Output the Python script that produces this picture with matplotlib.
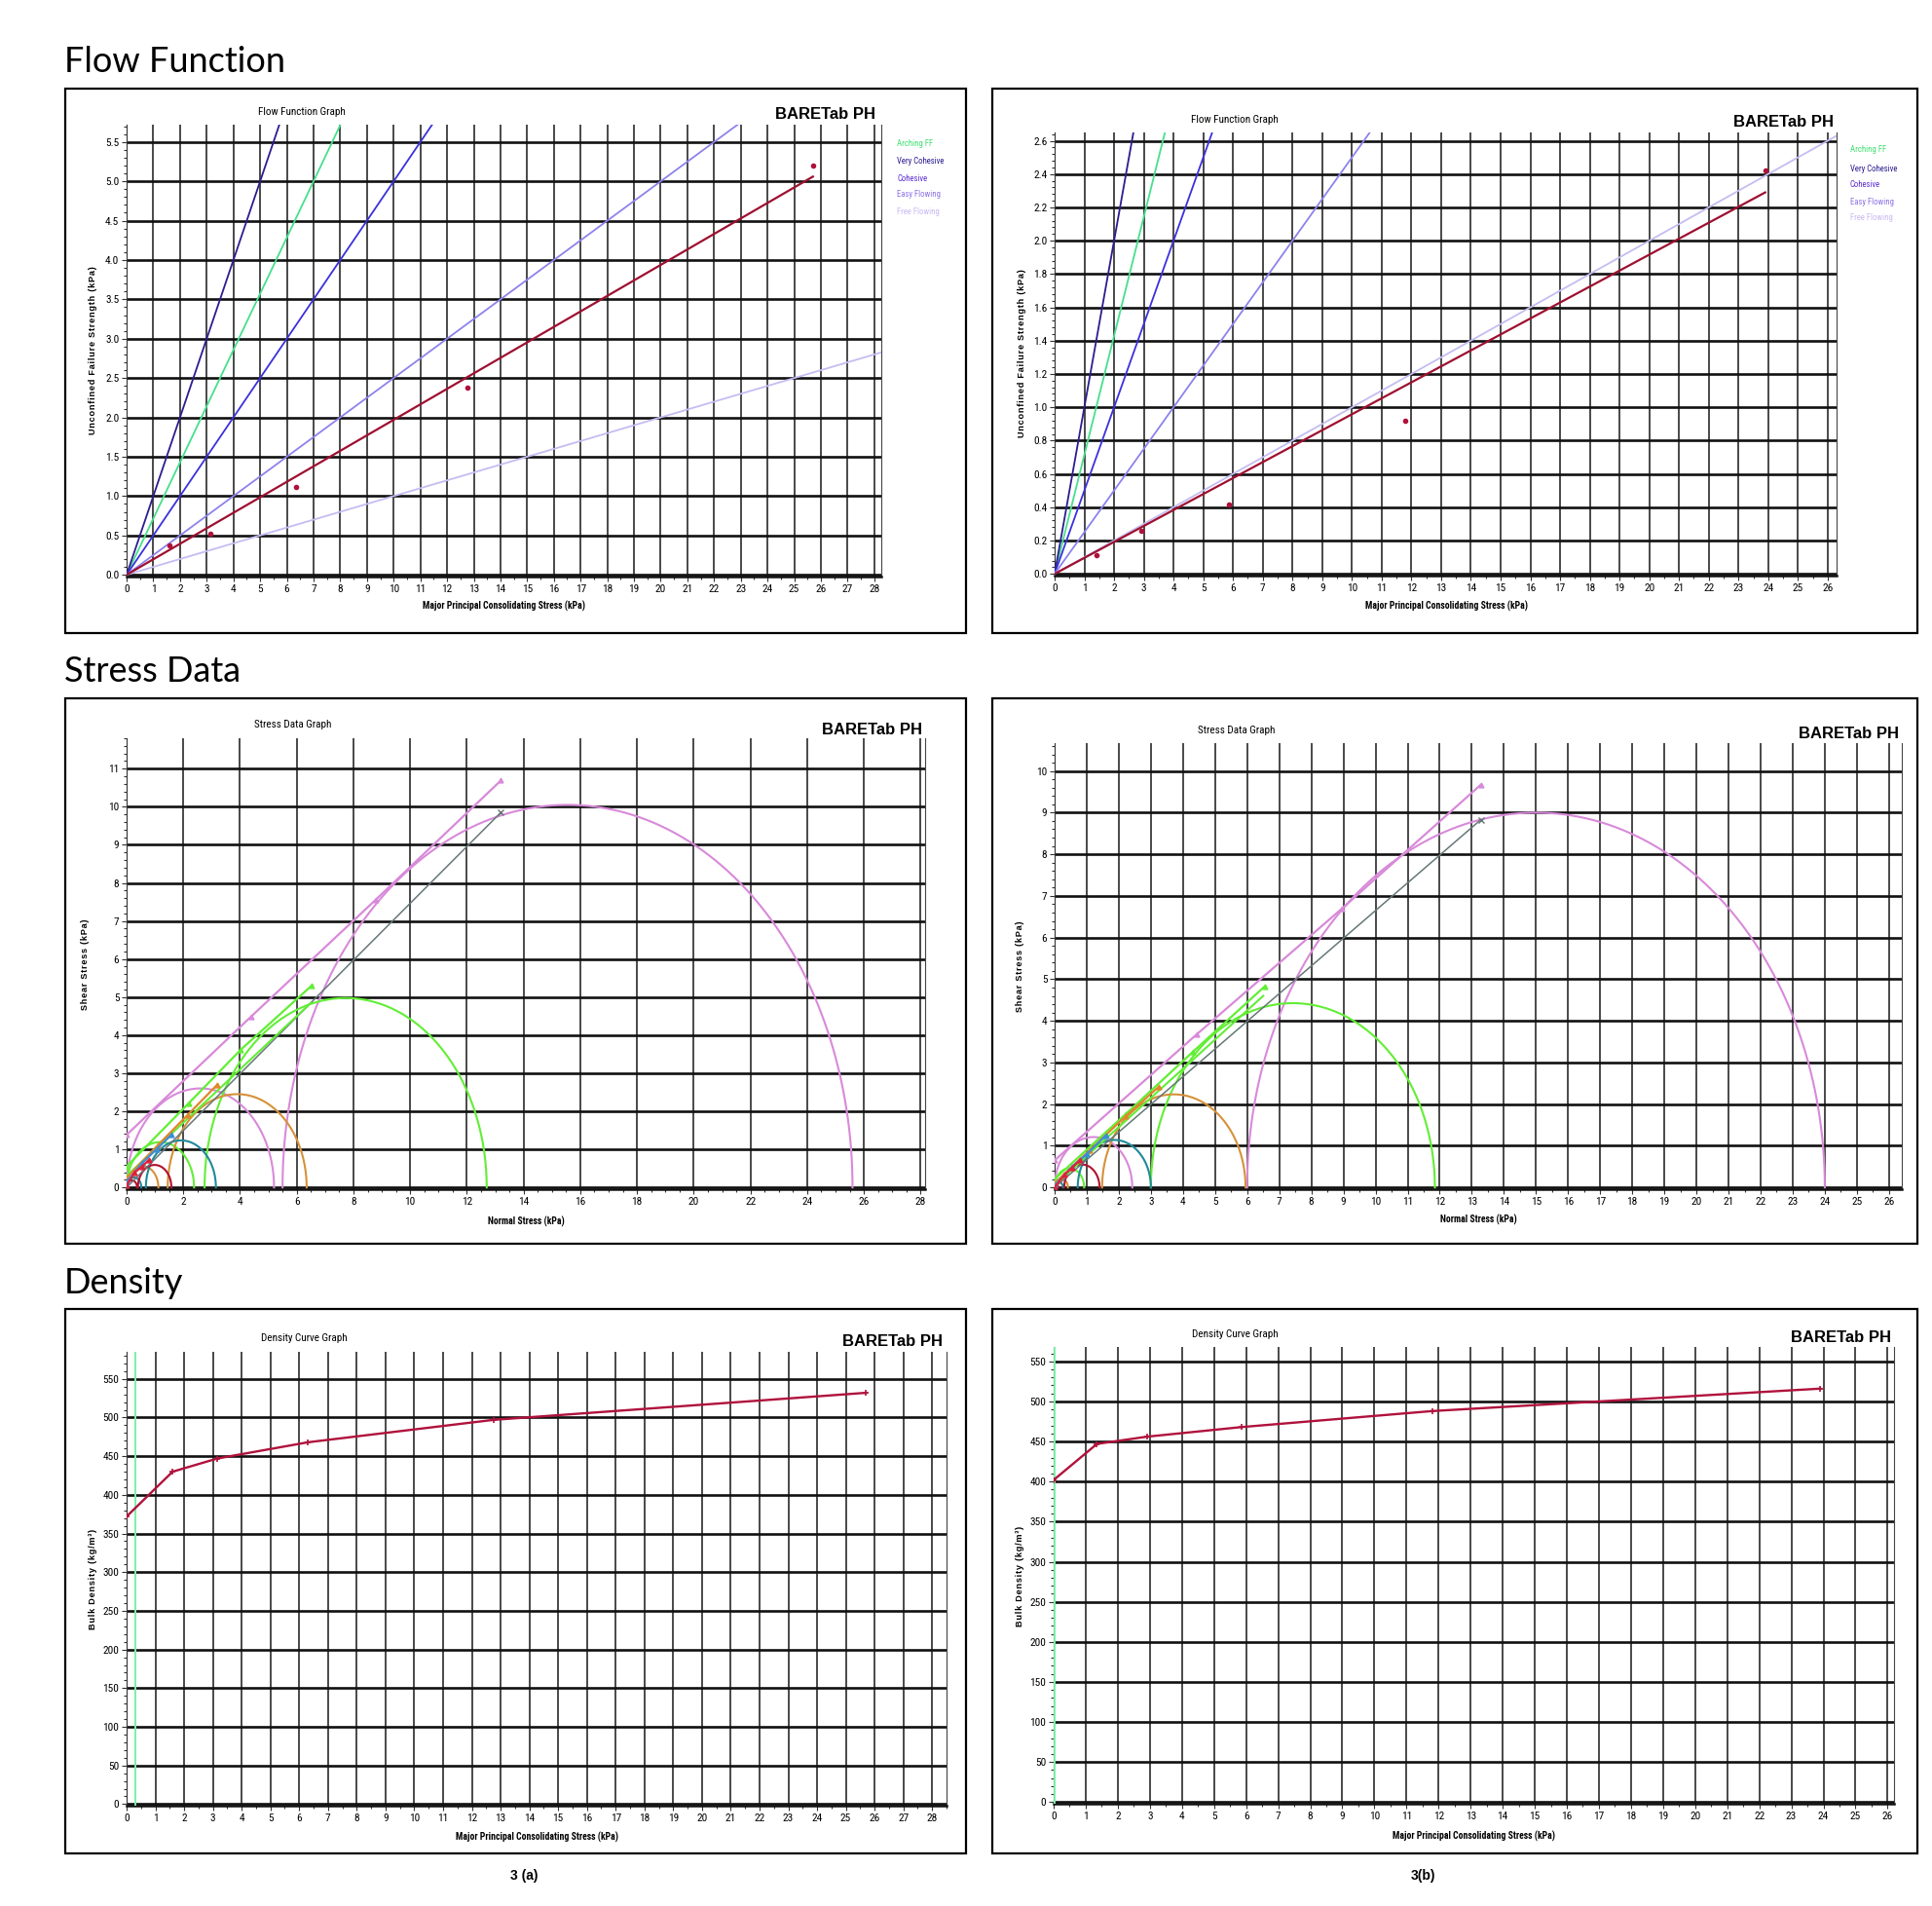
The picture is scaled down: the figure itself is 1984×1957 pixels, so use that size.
import numpy as np
import matplotlib
matplotlib.use("Agg")
import matplotlib.pyplot as plt
from matplotlib import font_manager
from matplotlib.patches import Rectangle
from matplotlib.ticker import MultipleLocator, FormatStrFormatter

W, H = 1984, 1957
_have = {f.name for f in font_manager.fontManager.ttflist}


def pick(cands):
    return [c for c in cands if c in _have][:1] + ["DejaVu Sans"]


NARROW = pick(["Liberation Sans Narrow", "Arial Narrow", "Roboto Condensed",
               "Open Sans Condensed", "DejaVu Sans Condensed", "Liberation Sans"])
ARIAL = pick(["Liberation Sans", "Arial"])
plt.rcParams["font.family"] = NARROW
plt.rcParams["font.stretch"] = "condensed"

# ---------------- data ----------------
# flow function, 3(a) and 3(b): major principal stress vs unconfined strength
ffa_sigma1 = [1.6, 3.15, 6.35, 12.75, 25.7]
ffa_fc = [0.37, 0.52, 1.12, 2.38, 5.2]
ffa_fit_x = [0, 25.7]
ffa_fit_y = [0, 5.06]
ffb_sigma1 = [1.4, 2.9, 5.85, 11.8, 23.9]
ffb_fc = [0.115, 0.26, 0.415, 0.92, 2.42]
ffb_fit_x = [0, 23.9]
ffb_fit_y = [0, 2.29]

class_names = ["Arching FF", "Very Cohesive", "Cohesive", "Easy Flowing", "Free Flowing"]
class_ff = [1.4, 1, 2, 4, 10]
class_line_colors = ["#45e08c", "#2b1d8f", "#3b30dd", "#8d82ec", "#c4bdf2"]
class_text_colors = ["#3ee070", "#2b1d8f", "#5b2fd3", "#8f74e4", "#cbbaf3"]

# stress data: Mohr circles (minor, major principal stress)
PINK, GREEN, ORANGE, TEAL, DRED = "#d88ad9", "#62ee35", "#d6913a", "#1f8a99", "#b3122e"
circ_colors = [PINK, PINK, GREEN, GREEN, ORANGE, ORANGE, TEAL, TEAL, DRED, DRED]
sda_circ_lo = [5.5, 0, 2.75, 0, 1.45, 0, 0.68, 0, 0.4, 0]
sda_circ_hi = [25.6, 5.2, 12.7, 2.38, 6.35, 1.12, 3.15, 0.52, 1.58, 0.37]
sdb_circ_lo = [6.0, 0, 3.0, 0, 1.48, 0, 0.72, 0, 0.3, 0]
sdb_circ_hi = [24.0, 2.42, 11.85, 0.92, 5.95, 0.415, 3.0, 0.26, 1.4, 0.115]

# yield loci
loci_colors = [PINK, GREEN, "#e0872a", "#3b8fd6", "#e0203a"]
sda_loci_x = [[0, 4.38, 8.79, 13.2], [0, 2.19, 4.03, 6.54], [0, 1.09, 2.15, 3.2],
              [0, 0.55, 1.05, 1.58], [0, 0.28, 0.55, 0.78]]
sda_loci_y = [[1.38, 4.48, 7.56, 10.69], [0.55, 2.21, 3.62, 5.31], [0.25, 1.1, 1.9, 2.7],
              [0.15, 0.64, 1.0, 1.38], [0.05, 0.39, 0.55, 0.72]]
sdb_loci_x = [[0, 4.42, 8.96, 13.28], [0, 2.2, 4.3, 6.55], [0, 1.1, 2.2, 3.25],
              [0, 0.55, 1.0, 1.6], [0, 0.3, 0.55, 0.78]]
sdb_loci_y = [[0.65, 3.67, 6.7, 9.67], [0.2, 1.75, 3.25, 4.83], [0.1, 0.9, 1.7, 2.42],
              [0.05, 0.5, 0.8, 1.25], [0.0, 0.3, 0.48, 0.65]]
sda_green2_x, sda_green2_y = [0, 6.5], [0.3, 4.85]
sdb_green2_x, sdb_green2_y = [0, 6.5], [0.05, 4.6]
sda_eyl_x, sda_eyl_y = [0, 13.2], [0, 9.85]
sdb_eyl_x, sdb_eyl_y = [0, 13.28], [0, 8.83]

# density curves
dna_x = [0, 1.6, 3.15, 6.3, 12.75, 25.7]
dna_y = [372, 430, 447, 468, 497, 532]
dnb_x = [0, 1.35, 2.9, 5.85, 11.8, 23.9]
dnb_y = [402, 447, 456, 468, 488, 516]
dna_green_x, dnb_green_x = 0.3, 0.03

XLAB_MPCS = "Major Principal Consolidating Stress (kPa)"

fig = plt.figure(figsize=(W / 100, H / 100), dpi=100)


def axes_px(l, t, r, b):
    return fig.add_axes([l / W, 1 - b / H, (r - l) / W, (b - t) / H])


def txt(x, y, s, **kw):
    return fig.text(x / W, 1 - y / H, s, **kw)


def spaced(s):
    return "\u200a".join(s)


def style(ax, xlim, ylim, xmaj, xmin, ymaj, ymin, yfmt):
    ax.set_xlim(*xlim)
    ax.set_ylim(*ylim)
    ax.xaxis.set_major_locator(MultipleLocator(xmaj))
    ax.xaxis.set_minor_locator(MultipleLocator(xmin))
    ax.yaxis.set_major_locator(MultipleLocator(ymaj))
    ax.yaxis.set_minor_locator(MultipleLocator(ymin))
    ax.yaxis.set_major_formatter(FormatStrFormatter(yfmt))
    ax.grid(True, which="major", axis="x", color="#2a2a2a", lw=1.2)
    ax.grid(True, which="major", axis="y", color="#111111", lw=1.9)
    ax.set_axisbelow(True)
    ax.spines["top"].set_visible(False)
    ax.spines["right"].set_color("#444444")
    ax.spines["left"].set_color("#333333")
    ax.spines["bottom"].set_color("#111111")
    ax.spines["bottom"].set_linewidth(1.8)
    ax.tick_params(which="both", direction="out", labelsize=8.2, width=0.8, color="#333333", pad=2)
    ax.tick_params(which="major", length=3.5)
    ax.tick_params(which="minor", length=2)


def panel_text(title, tx, ty, bx, by):
    txt(tx, ty, title, fontsize=8, ha="center", va="center", family=NARROW)
    txt(bx, by, "BARETab PH", fontsize=12, ha="right", va="center", weight="bold", family=ARIAL)


def labels(xl, xl_x, xl_y, yl, yl_x, yl_y):
    txt(xl_x, xl_y, xl, fontsize=7, ha="center", va="center", weight="bold", family=NARROW)
    txt(yl_x, yl_y, spaced(yl), fontsize=6.6, ha="center", va="center", rotation=90,
        weight="bold", family=ARIAL)


def flow_panel(box, xmax, ymax, ymaj, ymin, sig, fc, fx, fy, legx, legy):
    ax = axes_px(*box)
    style(ax, (0, xmax), (-ymax * 0.004, ymax), 1, 0.5, ymaj, ymin, "%.1f")
    for ff, c in zip(class_ff, class_line_colors):
        ax.plot([0, xmax], [0, xmax / ff], color=c, lw=1.3, zorder=3)
    ax.plot(fx, fy, color="#9e1030", lw=1.6, zorder=4)
    ax.plot(sig, fc, "o", color="#b0103a", ms=3, zorder=5)
    for name, c, y in zip(class_names, class_text_colors, legy):
        txt(legx, y, name, fontsize=6.3, color=c, ha="left", va="center", family=NARROW)
    return ax


def semicircle(ax, lo, hi, c):
    t = np.linspace(0, np.pi, 240)
    cen, r = (lo + hi) / 2, (hi - lo) / 2
    ax.plot(cen + r * np.cos(t), r * np.sin(t), color=c, lw=1.5, zorder=3)


def stress_panel(box, xmax, ymax, xmaj, lo, hi, lx, ly, g2x, g2y, ex, ey):
    ax = axes_px(*box)
    style(ax, (0, xmax), (-ymax * 0.004, ymax), xmaj, 0.5, 1, 0.2, "%d")
    for a, b, c in zip(lo, hi, circ_colors):
        semicircle(ax, a, b, c)
    ax.plot(ex, ey, color="#667777", lw=1.1, marker="x", ms=4, markevery=[1], zorder=4)
    ax.plot(g2x, g2y, color=GREEN, lw=1.5, zorder=4)
    for xs, ys, c in zip(lx, ly, loci_colors):
        ax.plot(xs, ys, color=c, lw=1.6, marker="^", ms=3.5, zorder=5)
    return ax


def density_panel(box, xmax, gx, xs, ys):
    ax = axes_px(*box)
    ymax = 585 if xmax > 27 else 568
    style(ax, (0, xmax), (-2, ymax), 1, 0.5, 50, 10, "%d")
    ax.axvline(gx, color="#7cf0a8", lw=1.4, zorder=3)
    ax.plot(xs, ys, color="#b0123c", lw=1.7, marker="+", ms=4, mew=1.2, zorder=4)
    return ax


# ---------------- row 1: flow function ----------------
flow_panel((130, 128, 905, 592), 28.26, 5.72, 0.5, 0.1, ffa_sigma1, ffa_fc,
           ffa_fit_x, ffa_fit_y, 921, [148, 166, 183, 200, 217])
panel_text("Flow Function Graph", 310, 115, 899, 117)
labels(XLAB_MPCS, 517, 622, "Unconfined Failure Strength (kPa)", 96, 360)

flow_panel((1083, 136, 1886, 591), 26.3, 2.65, 0.2, 0.04, ffb_sigma1, ffb_fc,
           ffb_fit_x, ffb_fit_y, 1900, [154, 173, 190, 207, 224])
panel_text("Flow Function Graph", 1268, 123, 1883, 125)
labels(XLAB_MPCS, 1485, 622, "Unconfined Failure Strength (kPa)", 1049, 363)

# ---------------- row 2: stress data ----------------
stress_panel((130, 758, 950, 1221), 28.16, 11.8, 2, sda_circ_lo, sda_circ_hi,
             sda_loci_x, sda_loci_y, sda_green2_x, sda_green2_y, sda_eyl_x, sda_eyl_y)
panel_text("Stress Data Graph", 301, 744, 947, 749)
labels("Normal Stress (kPa)", 540, 1254, "Shear Stress (kPa)", 88, 990)

stress_panel((1083, 763, 1953, 1221), 26.4, 10.67, 1, sdb_circ_lo, sdb_circ_hi,
             sdb_loci_x, sdb_loci_y, sdb_green2_x, sdb_green2_y, sdb_eyl_x, sdb_eyl_y)
panel_text("Stress Data Graph", 1270, 750, 1950, 753)
labels("Normal Stress (kPa)", 1518, 1252, "Shear Stress (kPa)", 1047, 992)

# ---------------- row 3: density ----------------
density_panel((130, 1388, 972, 1854), 28.5, dna_green_x, dna_x, dna_y)
panel_text("Density Curve Graph", 312, 1374, 968, 1377)
labels(XLAB_MPCS, 551, 1886, "Bulk Density (kg/m³)", 95, 1621)

density_panel((1082, 1383, 1945, 1852), 26.2, dnb_green_x, dnb_x, dnb_y)
panel_text("Density Curve Graph", 1268, 1370, 1942, 1373)
labels(XLAB_MPCS, 1513, 1885, "Bulk Density (kg/m³)", 1047, 1618)

# ---------------- frames, headings, captions ----------------
for (l, t, r, b) in [(67, 91, 992, 650), (1019, 91, 1969, 650),
                     (67, 717, 992, 1277), (1019, 717, 1969, 1277),
                     (67, 1344, 992, 1903), (1019, 1344, 1969, 1903)]:
    fig.add_artist(Rectangle((l / W, 1 - b / H), (r - l) / W, (b - t) / H,
                             transform=fig.transFigure, fill=False, ec="black", lw=1.6))

for s, y in [("Flow Function", 63), ("Stress Data", 690), ("Density", 1317)]:
    txt(66, y, s, fontsize=26, ha="left", va="center", family=["Lato", "DejaVu Sans"],
        stretch="normal")

txt(538, 1926, "3 (a)", fontsize=10, ha="center", va="center", weight="bold", family=ARIAL)
txt(1461, 1926, "3(b)", fontsize=10, ha="center", va="center", weight="bold", family=ARIAL)

fig.savefig("out.png", dpi=100, facecolor="white")
